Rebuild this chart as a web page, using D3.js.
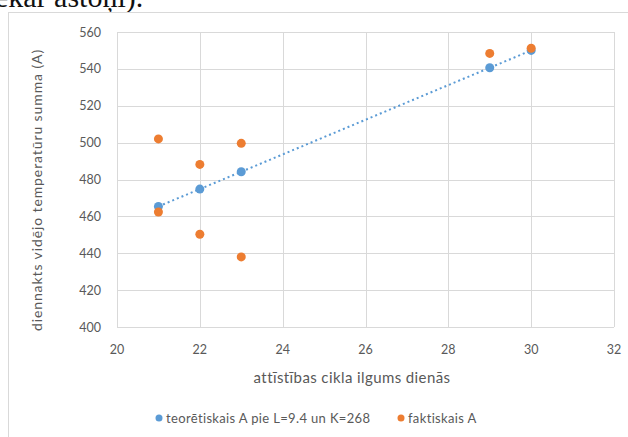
<!DOCTYPE html>
<html>
<head>
<meta charset="utf-8">
<script src="https://cdn.jsdelivr.net/npm/d3@7"></script>
<style>
  body { margin: 0; background: white; }
  svg { display: block; }
</style>
</head>
<body>
<div id="bigdiv"></div>
<script>
// data
const teorDays = [21, 22, 23, 29, 30]
const teorA = [465.4, 474.8, 484.2, 540.6, 550]
const faktDays = [21, 21, 22, 22, 23, 23, 29, 30]
const faktA = [502, 462.4, 488.2, 450.3, 499.6, 438, 548.4, 551.2]
const xTicks = [20, 22, 24, 26, 28, 30, 32]
const yTicks = [400, 420, 440, 460, 480, 500, 520, 540, 560]
const legendLabels = ['teorētiskais A pie L=9.4 un K=268', 'faktiskais A']

const W = 628, H = 437
const blue = '#5b9bd5', orange = '#ed7d31'
const grid = '#d9d9d9', txt = '#595959'
const font = 'Lato, "Open Sans", sans-serif'

let svg = d3.select('div#bigdiv').append('svg')
    .attr('width', W).attr('height', H)

// leftover document text cut at the top of the shot
svg.append('text')
    .attr('x', -5).attr('y', 7)
    .attr('font-family', '"Liberation Serif", serif')
    .attr('font-size', 30)
    .attr('fill', '#111')
    .text('ekar astoņi).')

// chart frame, runs off the right and bottom edges
svg.append('rect')
    .attr('x', 8.5).attr('y', 12.5)
    .attr('width', 700).attr('height', 500)
    .attr('fill', 'white').attr('stroke', grid)

let x = d3.scaleLinear().domain([20, 32]).range([117, 614])
let y = d3.scaleLinear().domain([400, 560]).range([327, 32])

let g = svg.append('g')

// gridlines
g.selectAll('line.hgrid').data(yTicks).enter().append('line')
    .attr('class', 'hgrid')
    .attr('x1', x(20)).attr('x2', x(32))
    .attr('y1', d => Math.round(y(d)) + 0.5).attr('y2', d => Math.round(y(d)) + 0.5)
    .attr('stroke', grid)
g.selectAll('line.vgrid').data(xTicks).enter().append('line')
    .attr('class', 'vgrid')
    .attr('y1', y(400)).attr('y2', y(560))
    .attr('x1', d => Math.round(x(d)) + 0.5).attr('x2', d => Math.round(x(d)) + 0.5)
    .attr('stroke', grid)

// tick labels
g.selectAll('text.ylab').data(yTicks).enter().append('text')
    .attr('class', 'ylab')
    .attr('x', 101).attr('y', d => y(d) + 4.5)
    .attr('text-anchor', 'end')
    .attr('font-family', font).attr('font-size', 12.5).attr('fill', txt)
    .text(d => d)
g.selectAll('text.xlab').data(xTicks).enter().append('text')
    .attr('class', 'xlab')
    .attr('x', d => x(d)).attr('y', 354)
    .attr('text-anchor', 'middle')
    .attr('font-family', font).attr('font-size', 12.5).attr('fill', txt)
    .text(d => d)

// axis titles
svg.append('text')
    .attr('transform', 'translate(42,190) rotate(-90)')
    .attr('text-anchor', 'middle')
    .attr('font-family', font).attr('font-size', 14).attr('fill', txt)
    .attr('letter-spacing', 0.9)
    .text('diennakts vidējo temperatūru summa (A)')
svg.append('text')
    .attr('x', 352).attr('y', 383)
    .attr('text-anchor', 'middle')
    .attr('font-family', font).attr('font-size', 15).attr('fill', txt)
    .attr('letter-spacing', 0.4)
    .text('attīstības cikla ilgums dienās')

// linear trend of the theoretical series
let mx = d3.mean(teorDays), my = d3.mean(teorA)
let slope = d3.sum(teorDays, (d, i) => (d - mx) * (teorA[i] - my)) / d3.sum(teorDays, d => (d - mx) * (d - mx))
let icpt = my - slope * mx
let x0 = d3.min(teorDays), x1 = d3.max(teorDays)
g.append('line')
    .attr('x1', x(x0)).attr('y1', y(icpt + slope * x0))
    .attr('x2', x(x1)).attr('y2', y(icpt + slope * x1))
    .attr('stroke', blue).attr('stroke-width', 2)
    .attr('stroke-dasharray', '2,3')

// points
g.selectAll('circle.teor').data(teorDays).enter().append('circle')
    .attr('class', 'teor')
    .attr('cx', d => x(d)).attr('cy', (d, i) => y(teorA[i]))
    .attr('r', 4.5).attr('fill', blue)
g.selectAll('circle.fakt').data(faktDays).enter().append('circle')
    .attr('class', 'fakt')
    .attr('cx', d => x(d)).attr('cy', (d, i) => y(faktA[i]))
    .attr('r', 4.5).attr('fill', orange)

// legend
let legX = [159, 401]
let legColors = [blue, orange]
legendLabels.forEach((lab, i) => {
    svg.append('circle')
        .attr('cx', legX[i]).attr('cy', 418).attr('r', 3.5)
        .attr('fill', legColors[i])
    svg.append('text')
        .attr('x', legX[i] + 7).attr('y', 422.5)
        .attr('font-family', font).attr('font-size', 13).attr('fill', txt)
        .attr('letter-spacing', 0.35)
        .text(lab)
})
</script>
</body>
</html>
